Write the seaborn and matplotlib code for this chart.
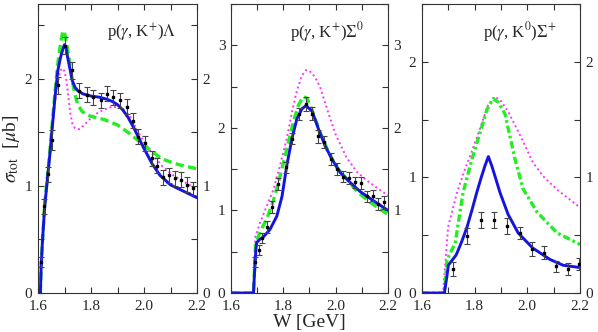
import matplotlib
matplotlib.use("Agg")
import matplotlib.pyplot as plt
import seaborn as sns
from matplotlib.ticker import MultipleLocator, FormatStrFormatter

# p(gamma, K+) Lambda
w_lam_data = [1.611, 1.623, 1.638, 1.653, 1.675, 1.702, 1.728, 1.755, 1.785, 1.808, 1.838,
              1.860, 1.883, 1.910, 1.936, 1.958, 1.977, 2.004, 2.030, 2.049, 2.072, 2.094,
              2.117, 2.140, 2.162, 2.185]
s_lam_data = [0.29, 0.81, 1.11, 1.43, 1.94, 2.31, 2.08, 1.89, 1.85, 1.83, 1.80,
              1.86, 1.83, 1.80, 1.74, 1.61, 1.46, 1.40, 1.26, 1.19, 1.08, 1.10,
              1.07, 1.06, 1.01, 0.98]
e_lam_data = [0.05, 0.07, 0.07, 0.09, 0.08, 0.08, 0.08, 0.07, 0.07, 0.07, 0.07,
              0.07, 0.07, 0.07, 0.07, 0.07, 0.07, 0.07, 0.07, 0.07, 0.07, 0.07,
              0.07, 0.07, 0.07, 0.06]

w_lam_full = [1.609, 1.612, 1.616, 1.625, 1.635, 1.645, 1.655, 1.665, 1.675, 1.685, 1.695,
              1.700, 1.705, 1.712, 1.720, 1.730, 1.740, 1.750, 1.770, 1.800, 1.830, 1.860,
              1.880, 1.900, 1.920, 1.940, 1.960, 1.980, 2.000, 2.030, 2.060, 2.100, 2.150, 2.200]
s_lam_full = [0.00, 0.25, 0.45, 0.80, 1.05, 1.30, 1.58, 1.85, 2.08, 2.20, 2.29,
              2.32, 2.30, 2.20, 2.10, 1.98, 1.92, 1.89, 1.86, 1.84, 1.83, 1.81,
              1.79, 1.76, 1.71, 1.64, 1.55, 1.45, 1.35, 1.21, 1.10, 1.01, 0.95, 0.89]

w_lam_dash = [1.609, 1.612, 1.616, 1.625, 1.635, 1.645, 1.655, 1.665, 1.675, 1.685, 1.693,
              1.698, 1.703, 1.710, 1.720, 1.730, 1.740, 1.750, 1.765, 1.780, 1.800, 1.850,
              1.900, 1.940, 1.980, 2.020, 2.070, 2.130, 2.200]
s_lam_dash = [0.00, 0.25, 0.45, 0.82, 1.08, 1.33, 1.62, 1.90, 2.15, 2.33, 2.44,
              2.45, 2.40, 2.30, 2.15, 1.97, 1.85, 1.76, 1.70, 1.67, 1.65, 1.62,
              1.57, 1.50, 1.42, 1.34, 1.25, 1.20, 1.16]

w_lam_dot = [1.609, 1.612, 1.616, 1.625, 1.635, 1.645, 1.655, 1.665, 1.675, 1.685, 1.693,
             1.700, 1.708, 1.715, 1.722, 1.730, 1.740, 1.755, 1.770, 1.790, 1.810, 1.845,
             1.880, 1.915, 1.945, 1.970, 2.000, 2.035, 2.070, 2.110, 2.150, 2.200]
s_lam_dot = [0.00, 0.25, 0.45, 0.80, 1.05, 1.30, 1.56, 1.80, 1.98, 2.08, 2.10,
             2.07, 1.98, 1.82, 1.68, 1.58, 1.54, 1.53, 1.56, 1.61, 1.66, 1.71,
             1.74, 1.73, 1.66, 1.54, 1.41, 1.29, 1.18, 1.10, 1.04, 0.97]

# p(gamma, K+) Sigma0
w_sig0_data = [1.692, 1.708, 1.720, 1.737, 1.756, 1.780, 1.810, 1.833, 1.860, 1.887, 1.910,
               1.933, 1.955, 1.982, 2.004, 2.029, 2.051, 2.074, 2.097, 2.120, 2.143, 2.162, 2.185]
s_sig0_data = [0.37, 0.52, 0.67, 0.80, 1.04, 1.32, 1.52, 1.87, 2.17, 2.29, 2.17,
               1.90, 1.83, 1.62, 1.50, 1.41, 1.39, 1.34, 1.33, 1.17, 1.18, 1.08, 1.10]
e_sig0_data = [0.06, 0.06, 0.06, 0.07, 0.07, 0.07, 0.07, 0.07, 0.07, 0.08, 0.08,
               0.08, 0.07, 0.07, 0.07, 0.07, 0.07, 0.07, 0.07, 0.07, 0.07, 0.07, 0.08]

w_sig0_full = [1.600, 1.686, 1.690, 1.695, 1.698, 1.710, 1.724, 1.749, 1.775, 1.795, 1.813,
               1.833, 1.852, 1.871, 1.887, 1.910, 1.935, 1.960, 1.986, 2.017, 2.055, 2.093,
               2.143, 2.200]
s_sig0_full = [0.00, 0.00, 0.25, 0.52, 0.61, 0.65, 0.68, 0.77, 0.93, 1.17, 1.54,
               1.87, 2.11, 2.23, 2.27, 2.20, 1.98, 1.78, 1.62, 1.46, 1.34, 1.23,
               1.12, 1.00]

w_sig0_dash = [1.600, 1.686, 1.690, 1.694, 1.711, 1.737, 1.762, 1.787, 1.813, 1.838, 1.857,
               1.876, 1.890, 1.908, 1.940, 1.972, 2.005, 2.043, 2.081, 2.131, 2.200]
s_sig0_dash = [0.00, 0.00, 0.30, 0.60, 0.74, 0.90, 1.12, 1.41, 1.74, 2.07, 2.27,
               2.38, 2.36, 2.23, 1.95, 1.71, 1.52, 1.38, 1.23, 1.10, 0.95]

w_sig0_dot = [1.600, 1.686, 1.690, 1.693, 1.711, 1.736, 1.762, 1.787, 1.813, 1.833, 1.852,
              1.870, 1.887, 1.900, 1.920, 1.940, 1.970, 2.000, 2.040, 2.080, 2.120, 2.160, 2.200]
s_sig0_dot = [0.00, 0.00, 0.35, 0.68, 0.85, 1.05, 1.25, 1.54, 1.87, 2.19, 2.45,
              2.63, 2.70, 2.69, 2.62, 2.50, 2.20, 1.92, 1.65, 1.47, 1.36, 1.27, 1.18]

# p(gamma, K0) Sigma+
w_sigp_data = [1.718, 1.771, 1.824, 1.874, 1.922, 1.972, 2.017, 2.063, 2.108, 2.155, 2.197]
s_sigp_data = [0.21, 0.49, 0.63, 0.63, 0.58, 0.52, 0.38, 0.35, 0.23, 0.21, 0.25]
e_sigp_data = [0.06, 0.07, 0.07, 0.07, 0.07, 0.05, 0.06, 0.06, 0.05, 0.05, 0.05]

w_sigp_full = [1.600, 1.685, 1.695, 1.700, 1.710, 1.730, 1.750, 1.771, 1.790, 1.808, 1.825,
               1.839, 1.852, 1.865, 1.880, 1.896, 1.927, 1.965, 2.020, 2.086, 2.136, 2.200]
s_sigp_full = [0.00, 0.00, 0.15, 0.24, 0.27, 0.33, 0.44, 0.57, 0.72, 0.87, 1.00,
               1.10, 1.18, 1.10, 0.99, 0.87, 0.68, 0.52, 0.39, 0.29, 0.24, 0.22]

w_sigp_dash = [1.600, 1.685, 1.695, 1.726, 1.756, 1.790, 1.813, 1.847, 1.870, 1.890, 1.915,
               1.953, 1.984, 2.037, 2.113, 2.200]
s_sigp_dash = [0.00, 0.00, 0.29, 0.43, 0.87, 1.16, 1.33, 1.59, 1.68, 1.65, 1.55,
               1.16, 0.90, 0.70, 0.52, 0.42]

w_sigp_dot = [1.600, 1.680, 1.690, 1.699, 1.733, 1.763, 1.782, 1.820, 1.850, 1.877, 1.900,
              1.927, 1.980, 2.021, 2.060, 2.110, 2.200]
s_sigp_dot = [0.00, 0.00, 0.30, 0.57, 0.87, 1.07, 1.18, 1.42, 1.62, 1.70, 1.66,
              1.57, 1.33, 1.13, 1.01, 0.90, 0.74]

panels = [
    (r"p($\gamma$, K$^{+}$)$\Lambda$", 2.7, 0.434,
     w_lam_data, s_lam_data, e_lam_data,
     w_lam_full, s_lam_full, w_lam_dash, s_lam_dash, w_lam_dot, s_lam_dot, (2.5, 1.3)),
    (r"p($\gamma$, K$^{+}$)$\Sigma^{0}$", 3.5, 0.376,
     w_sig0_data, s_sig0_data, e_sig0_data,
     w_sig0_full, s_sig0_full, w_sig0_dash, s_sig0_dash, w_sig0_dot, s_sig0_dot, (2.5, 1.3)),
    (r"p($\gamma$, K$^{0}$)$\Sigma^{+}$", 2.5, 0.386,
     w_sigp_data, s_sigp_data, e_sigp_data,
     w_sigp_full, s_sigp_full, w_sigp_dash, s_sigp_dash, w_sigp_dot, s_sigp_dot,
     (2.2, 0.9, 0.8, 0.9)),
]

lefts = [38, 231, 422]
widths = [159, 157, 158]

sns.set_style("ticks")
plt.rcParams["font.family"] = "serif"
plt.rcParams["font.serif"] = ["Liberation Serif", "DejaVu Serif"]
plt.rcParams["mathtext.fontset"] = "stix"

fig = plt.figure(figsize=(5.98, 3.32), dpi=100)

for i, p in enumerate(panels):
    (title, ymax, tx, wd, sd, ed, wf, sf, wa, sa, wo, so, dash) = p
    ax = fig.add_axes([lefts[i] / 598, 39 / 332, widths[i] / 598, 289 / 332])

    sns.lineplot(x=wo, y=so, ax=ax, color="#ff33ff", lw=1.4, linestyle=(0, (1, 1.5)))
    sns.lineplot(x=wa, y=sa, ax=ax, color="#22ee22", lw=2.4, linestyle=(0, dash))
    sns.lineplot(x=wf, y=sf, ax=ax, color="#1414e0", lw=2.1)
    ax.errorbar(wd, sd, yerr=ed, fmt="s", ms=1.8, color="black", ecolor="#444444",
                elinewidth=0.8, capsize=2.5, capthick=0.8, zorder=5)

    ax.set_xlim(1.6, 2.2)
    ax.set_ylim(0, ymax)
    ax.xaxis.set_major_locator(MultipleLocator(0.2))
    ax.xaxis.set_minor_locator(MultipleLocator(0.1))
    ax.yaxis.set_major_locator(MultipleLocator(1))
    ax.yaxis.set_minor_locator(MultipleLocator(0.5))
    ax.xaxis.set_major_formatter(FormatStrFormatter("%.1f"))
    ax.yaxis.set_major_formatter(FormatStrFormatter("%d"))
    ax.tick_params(which="both", direction="in", top=True, right=True,
                   labelright=True, labelsize=11, color="#333333")
    ax.tick_params(axis="x", pad=5)
    ax.tick_params(axis="y", pad=4)
    ax.tick_params(which="major", length=4, width=0.8)
    ax.tick_params(which="minor", length=4, width=0.8)
    for sp in ax.spines.values():
        sp.set_linewidth(0.8)
        sp.set_color("#333333")

    ax.text(tx, 0.886, title, transform=ax.transAxes, ha="left", va="baseline", fontsize=12)
    ax.set_xlabel("")
    ax.set_ylabel("")

    if i == 0:
        ax.set_ylabel(r"$\sigma_{\rm tot}$  [$\mu$b]", fontsize=14, labelpad=2)
    if i == 1:
        ax.set_xlabel("W [GeV]", fontsize=14, labelpad=1)

fig.savefig("out.png", dpi=100)
